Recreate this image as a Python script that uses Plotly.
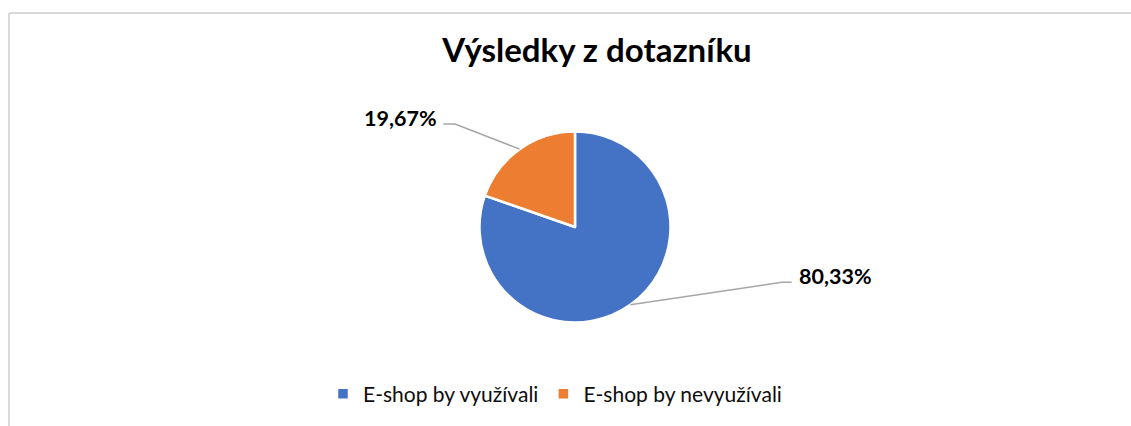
import math
import plotly.graph_objects as go

# ---- data ----
categories = ["E-shop by využívali", "E-shop by nevyužívali"]
values = [80.33, 19.67]
colors = ["#4472C4", "#ED7D31"]
title_text = "Výsledky z dotazníku"

# ---- layout constants (pixels) ----
W, H = 1131, 426
cx, cy, R = 575.0, 227.0, 95.5
FONT = "Lato"

def px(x):
    return x / W

def py(y):
    return 1 - y / H

labels_txt = [f"{v:.2f}".replace(".", ",") + "%" for v in values]

fig = go.Figure()
fig.add_trace(go.Pie(
    labels=categories,
    values=values,
    sort=False,
    direction="clockwise",
    rotation=0,
    marker=dict(colors=colors, line=dict(color="white", width=2.5)),
    textinfo="none",
    hoverinfo="label+percent",
    domain=dict(x=[px(cx - R), px(cx + R)], y=[py(cy + R), py(cy - R)]),
))

# label placement (label anchor, bend point, end of horizontal segment)
label_layout = [
    dict(text_x=797, text_y=276, anchor="left", bend=(781.7, 282.3), end=(791.7, 282.3)),
    dict(text_x=438.5, text_y=117.5, anchor="right", bend=(455.0, 124.0), end=(443.3, 124.0)),
]

shapes = []
annotations = []
total = sum(values)
cum = 0.0
for v, txt, lay in zip(values, labels_txt, label_layout):
    theta = 2 * math.pi * (cum + v / 2) / total
    cum += v
    ex = cx + R * math.sin(theta)
    ey = cy - R * math.cos(theta)
    bx, by = lay["bend"]
    tx, ty = lay["end"]
    path = f"M {px(ex)},{py(ey)} L {px(bx)},{py(by)} L {px(tx)},{py(ty)}"
    shapes.append(dict(type="path", xref="paper", yref="paper", path=path,
                       line=dict(color="#A6A6A6", width=1.5)))
    annotations.append(dict(
        text=f"<b>{txt}</b>", xref="paper", yref="paper",
        x=px(lay["text_x"]), y=py(lay["text_y"]),
        xanchor=lay["anchor"], yanchor="middle", showarrow=False,
        font=dict(family=FONT, size=21.5, color="#000000"),
    ))

# chart area border (only top and left visible in the crop)
shapes.append(dict(type="line", xref="paper", yref="paper",
                   x0=px(9), y0=py(13), x1=1.0, y1=py(13),
                   line=dict(color="#D9D9D9", width=2)))
shapes.append(dict(type="line", xref="paper", yref="paper",
                   x0=px(9), y0=py(13), x1=px(9), y1=0.0,
                   line=dict(color="#D9D9D9", width=2)))

fig.update_layout(
    width=W, height=H, autosize=False,
    margin=dict(l=0, r=0, t=0, b=0),
    paper_bgcolor="white", plot_bgcolor="white",
    title=dict(text=f"<b>{title_text}</b>", x=px(597), y=py(50),
               xref="paper", yref="paper", xanchor="center", yanchor="middle",
               font=dict(family=FONT, size=33, color="#000000")),
    legend=dict(orientation="h", x=px(323), y=py(394),
                xanchor="left", yanchor="middle",
                font=dict(family=FONT, size=21, color="#0D0D0D")),
    shapes=shapes,
    annotations=annotations,
)

fig.write_html("out.html", config={"displayModeBar": False},
               post_script="document.body.style.margin='0';")
